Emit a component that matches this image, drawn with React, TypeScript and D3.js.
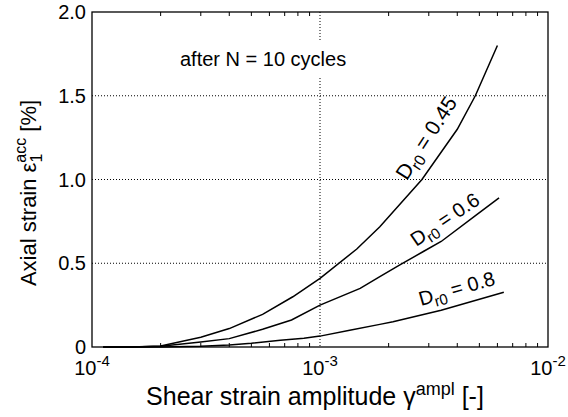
import React from 'react';
import * as d3 from 'd3';

const W = 568;
const H = 417;
const PL = 92, PR = 548, PT = 12, PB = 347;

const xDomain = [1e-4, 1e-2];
const yDomain = [0, 2];
const yTicks = [0, 0.5, 1.0, 1.5, 2.0];
const yTickLabels = ['0', '0.5', '1.0', '1.5', '2.0'];
const xMajorTicks = [1e-4, 1e-3, 1e-2];
const xMajorExps = ['-4', '-3', '-2'];
const yGridValues = [0.5, 1.0, 1.5];
const xGridValues = [1e-3];
const xMinorTicks = [2e-4, 3e-4, 4e-4, 5e-4, 6e-4, 7e-4, 8e-4, 9e-4, 2e-3, 3e-3, 4e-3, 5e-3, 6e-3, 7e-3, 8e-3, 9e-3];

// Dr0 = 0.45
const gamma045 = [1.12e-4, 1.5e-4, 2e-4, 3e-4, 4e-4, 5.6e-4, 7.6e-4, 1e-3, 1.45e-3, 1.83e-3, 2.8e-3, 4e-3, 4.8e-3, 6e-3];
const eps045 = [0.0, 0.0, 0.006, 0.058, 0.11, 0.195, 0.30, 0.41, 0.585, 0.718, 1.0, 1.30, 1.50, 1.80];
// Dr0 = 0.6
const gamma06 = [1.12e-4, 1.5e-4, 2e-4, 3e-4, 4e-4, 5.6e-4, 7.5e-4, 1e-3, 1.5e-3, 1.83e-3, 2.24e-3, 2.84e-3, 3.4e-3, 4.87e-3, 6.1e-3];
const eps06 = [0.0, 0.0, 0.004, 0.03, 0.05, 0.106, 0.161, 0.25, 0.35, 0.42, 0.49, 0.57, 0.63, 0.79, 0.89];
// Dr0 = 0.8
const gamma08 = [1.12e-4, 2e-4, 3e-4, 4e-4, 5e-4, 6.7e-4, 8.5e-4, 1e-3, 1.35e-3, 1.83e-3, 2.09e-3, 3.4e-3, 6.4e-3];
const eps08 = [0.0, 0.0, 0.004, 0.012, 0.022, 0.04, 0.052, 0.065, 0.10, 0.135, 0.151, 0.22, 0.327];

const seriesNames = ['0.45', '0.6', '0.8'];
const seriesGammas = [gamma045, gamma06, gamma08];
const seriesEps = [eps045, eps06, eps08];
// label anchor (data coords of label start) and rotation
const labelAnchorX = [2.4e-3, 2.64e-3, 2.77e-3];
const labelAnchorY = [0.99, 0.597, 0.245];
const labelRot = [-57, -34, -16];
const labelSizes = [21, 20, 20];

const annotation = 'after N = 10 cycles';

const FONT = "'Liberation Sans', Arial, Helvetica, sans-serif";

export default function App() {
  const x = d3.scaleLog().domain(xDomain).range([PL, PR]);
  const y = d3.scaleLinear().domain(yDomain).range([PB, PT]);
  const line = d3
    .line<[number, number]>()
    .x((d) => x(d[0]))
    .y((d) => y(d[1]));

  return (
    <svg
      width={W}
      height={H}
      style={{ position: 'absolute', left: 0, top: 0, background: '#fff' }}
      fontFamily={FONT}
    >
      <rect x={0} y={0} width={W} height={H} fill="#fff" />
      {/* grid */}
      {yGridValues.map((v) => (
        <line key={'gy' + v} x1={PL} x2={PR} y1={y(v)} y2={y(v)} stroke="#000" strokeWidth={1} strokeDasharray="1,2" />
      ))}
      {xGridValues.map((v) => (
        <line key={'gx' + v} x1={x(v)} x2={x(v)} y1={PT} y2={PB} stroke="#000" strokeWidth={1} strokeDasharray="1,2" />
      ))}
      {/* annotation */}
      <rect x={176} y={40} width={178} height={37} fill="#fff" />
      <text x={180} y={66} fontSize={20} fill="#000">
        {annotation}
      </text>
      {/* minor ticks */}
      {xMinorTicks.map((v) => (
        <g key={'mt' + v}>
          <line x1={x(v)} x2={x(v)} y1={PB} y2={PB - 4} stroke="#000" strokeWidth={1} />
          <line x1={x(v)} x2={x(v)} y1={PT} y2={PT + 4} stroke="#000" strokeWidth={1} />
        </g>
      ))}
      {/* curves */}
      {seriesNames.map((n, i) => {
        const pts: [number, number][] = seriesGammas[i].map((g, j) => [g, seriesEps[i][j]]);
        return <path key={'c' + n} d={line(pts) || ''} fill="none" stroke="#000" strokeWidth={1.5} />;
      })}
      {/* curve labels */}
      {seriesNames.map((n, i) => (
        <text
          key={'l' + n}
          transform={`translate(${x(labelAnchorX[i])},${y(labelAnchorY[i])}) rotate(${labelRot[i]})`}
          fontSize={labelSizes[i]}
          fill="#000"
        >
          D<tspan fontSize={labelSizes[i] * 0.75} dy={5}>r0</tspan>
          <tspan dy={-5}>{' = ' + n}</tspan>
        </text>
      ))}
      {/* frame */}
      <rect x={PL} y={PT} width={PR - PL} height={PB - PT} fill="none" stroke="#000" strokeWidth={1.3} />
      {/* y tick labels */}
      {yTicks.map((v, i) => (
        <text key={'yt' + v} x={86} y={y(v)} dy="0.35em" textAnchor="end" fontSize={20} fill="#000">
          {yTickLabels[i]}
        </text>
      ))}
      {/* x tick labels */}
      {xMajorTicks.map((v, i) => (
        <text key={'xt' + v} x={x(v)} y={375} textAnchor="middle" fontSize={20} fill="#000">
          10<tspan fontSize={15} dy={-9}>{xMajorExps[i]}</tspan>
        </text>
      ))}
      {/* x title */}
      <text x={315} y={405} textAnchor="middle" fontSize={25} fill="#000">
        Shear strain amplitude γ<tspan fontSize={18} dy={-10}>ampl</tspan>
        <tspan dy={10}> [-]</tspan>
      </text>
      {/* y title */}
      <text transform="translate(36,193) rotate(-90)" textAnchor="middle" fontSize={22} fill="#000">
        Axial strain ε<tspan fontSize={16} dy={6}>1</tspan>
        <tspan fontSize={16} dx={-9} dy={-16}>acc</tspan>
        <tspan dy={10}> [%]</tspan>
      </text>
    </svg>
  );
}
